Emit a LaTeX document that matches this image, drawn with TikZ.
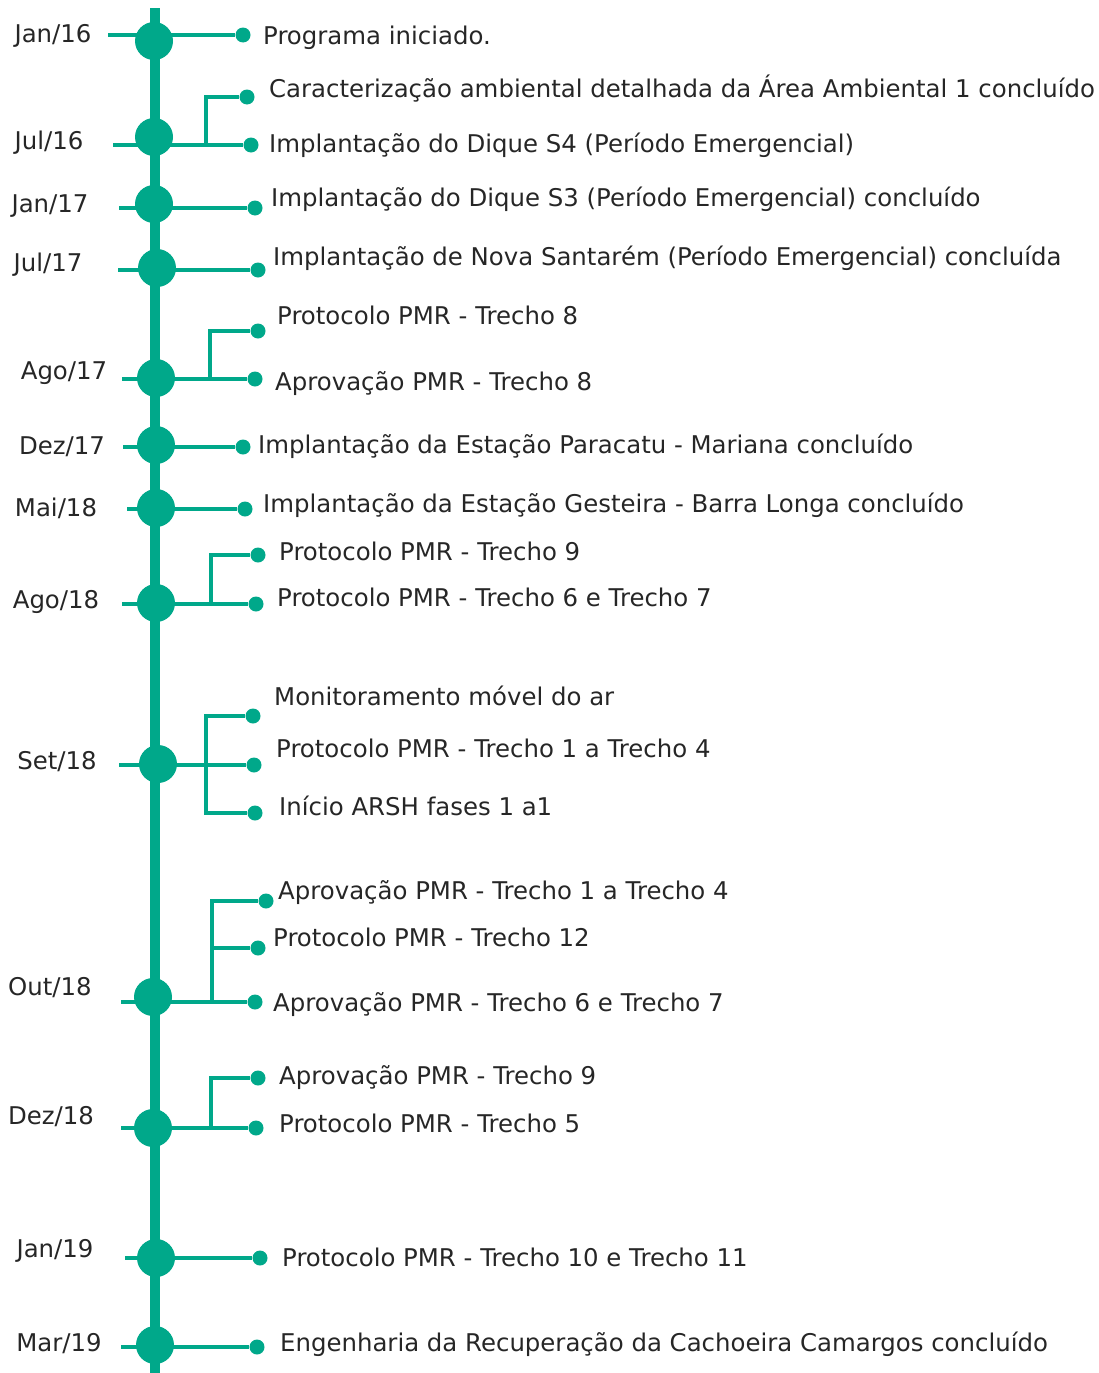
\documentclass[tikz,border=0pt]{standalone}
\usepackage{fontspec}
\setmainfont{DejaVu Sans}
\usepackage{tikz}
\usetikzlibrary{positioning, calc}
\definecolor{fundgreen}{RGB}{0, 168, 138}
\definecolor{textgray}{RGB}{38, 38, 38}

\begin{document}
\begin{tikzpicture}[x=1pt, y=-1pt,
    milestone/.style={circle, fill=fundgreen, inner sep=0pt, minimum size=38pt},
    tipdot/.style={circle, fill=fundgreen, inner sep=0pt, minimum size=15pt},
    branch/.style={draw=fundgreen, line width=3.5pt},
    evt/.style={anchor=west, inner sep=0pt, text height=18pt, text depth=0pt, text=textgray, font=\fontsize{24.4}{29}\selectfont},
    datelbl/.style={inner sep=0pt, text height=18pt, text depth=0pt, text=textgray, font=\fontsize{24.4}{29}\selectfont}]
    \useasboundingbox (0,0) rectangle (1099,1373);

    % Time axis
    \coordinate (top) at (155,8);
    \coordinate (bottom) at (155,1373);
    \draw[fundgreen, line width=10pt] (top) -- (bottom);

    % Jan/16
    \node[milestone] (m1) at (154,41) {};
    \coordinate (t1) at (108,35);
    \node[tipdot] (d1) at (243,35) {};
    \draw[branch] (t1) -- (d1);
    \node[datelbl] (l1) at (53,33) {Jan/16};
    \node[evt] (e1) at (263,35) {Programa iniciado.};

    % Jul/16
    \node[milestone] (m2) at (154,137) {};
    \coordinate (t2) at (113,145);
    \coordinate (j2) at (206,145);
    \node[tipdot] (d2a) at (247,97) {};
    \node[tipdot] (d2b) at (251,145) {};
    \draw[branch] (t2) -- (d2b);
    \draw[branch] (j2) |- (d2a);
    \node[datelbl] (l2) at (49,140) {Jul/16};
    \node[evt] (e2a) at (269,88) {Caracterização ambiental detalhada da Área Ambiental 1 concluído};
    \node[evt] (e2b) at (269,143) {Implantação do Dique S4 (Período Emergencial)};

    % Jan/17
    \node[milestone] (m3) at (154,204) {};
    \coordinate (t3) at (119,208);
    \node[tipdot] (d3) at (255,208) {};
    \draw[branch] (t3) -- (d3);
    \node[datelbl] (l3) at (50,203) {Jan/17};
    \node[evt] (e3) at (271,197) {Implantação do Dique S3 (Período Emergencial) concluído};

    % Jul/17
    \node[milestone] (m4) at (157,268) {};
    \coordinate (t4) at (118,270);
    \node[tipdot] (d4) at (258,270) {};
    \draw[branch] (t4) -- (d4);
    \node[datelbl] (l4) at (48,262) {Jul/17};
    \node[evt] (e4) at (273,256) {Implantação de Nova Santarém (Período Emergencial) concluída};

    % Ago/17
    \node[milestone] (m5) at (156,378) {};
    \coordinate (t5) at (122,379);
    \coordinate (j5) at (210,379);
    \node[tipdot] (d5a) at (258,331) {};
    \node[tipdot] (d5b) at (255,379) {};
    \draw[branch] (t5) -- (d5b);
    \draw[branch] (j5) |- (d5a);
    \node[datelbl] (l5) at (64,370) {Ago/17};
    \node[evt] (e5a) at (277,315) {Protocolo PMR - Trecho 8};
    \node[evt] (e5b) at (275,381) {Aprovação PMR - Trecho 8};

    % Dez/17
    \node[milestone] (m6) at (156,445) {};
    \coordinate (t6) at (123,447);
    \node[tipdot] (d6) at (243,447) {};
    \draw[branch] (t6) -- (d6);
    \node[datelbl] (l6) at (62,445) {Dez/17};
    \node[evt] (e6) at (258,444) {Implantação da Estação Paracatu - Mariana concluído};

    % Mai/18
    \node[milestone] (m7) at (156,508) {};
    \coordinate (t7) at (127,509);
    \node[tipdot] (d7) at (245,509) {};
    \draw[branch] (t7) -- (d7);
    \node[datelbl] (l7) at (56,507) {Mai/18};
    \node[evt] (e7) at (263,503) {Implantação da Estação Gesteira - Barra Longa concluído};

    % Ago/18
    \node[milestone] (m8) at (156,603) {};
    \coordinate (t8) at (122,604);
    \coordinate (j8) at (211,604);
    \node[tipdot] (d8a) at (258,555) {};
    \node[tipdot] (d8b) at (256,604) {};
    \draw[branch] (t8) -- (d8b);
    \draw[branch] (j8) |- (d8a);
    \node[datelbl] (l8) at (56,599) {Ago/18};
    \node[evt] (e8a) at (279,551) {Protocolo PMR - Trecho 9};
    \node[evt] (e8b) at (277,597) {Protocolo PMR - Trecho 6 e Trecho 7};

    % Set/18
    \node[milestone] (m9) at (158,764) {};
    \coordinate (t9) at (119,765);
    \coordinate (j9) at (206,765);
    \node[tipdot] (d9a) at (253,716) {};
    \node[tipdot] (d9b) at (254,765) {};
    \node[tipdot] (d9c) at (255,813) {};
    \draw[branch] (t9) -- (d9b);
    \draw[branch] (d9a) -| (j9) |- (d9c);
    \node[datelbl] (l9) at (57,760) {Set/18};
    \node[evt] (e9a) at (274,696) {Monitoramento móvel do ar};
    \node[evt] (e9b) at (276,748) {Protocolo PMR - Trecho 1 a Trecho 4};
    \node[evt] (e9c) at (279,806) {Início ARSH fases 1 a1};

    % Out/18
    \node[milestone] (m10) at (153,997) {};
    \coordinate (t10) at (121,1002);
    \coordinate (j10) at (212,1002);
    \node[tipdot] (d10a) at (266,901) {};
    \node[tipdot] (d10b) at (258,948) {};
    \node[tipdot] (d10c) at (255,1002) {};
    \draw[branch] (t10) -- (d10c);
    \draw[branch] (j10) |- (d10a);
    \draw[branch] (j10 |- d10b) -- (d10b);
    \node[datelbl] (l10) at (50,986) {Out/18};
    \node[evt] (e10a) at (278,890) {Aprovação PMR - Trecho 1 a Trecho 4};
    \node[evt] (e10b) at (273,937) {Protocolo PMR - Trecho 12};
    \node[evt] (e10c) at (273,1002) {Aprovação PMR - Trecho 6 e Trecho 7};

    % Dez/18
    \node[milestone] (m11) at (153,1128) {};
    \coordinate (t11) at (121,1128);
    \coordinate (j11) at (211,1128);
    \node[tipdot] (d11a) at (258,1078) {};
    \node[tipdot] (d11b) at (256,1128) {};
    \draw[branch] (t11) -- (d11b);
    \draw[branch] (j11) |- (d11a);
    \node[datelbl] (l11) at (51,1115) {Dez/18};
    \node[evt] (e11a) at (279,1075) {Aprovação PMR - Trecho 9};
    \node[evt] (e11b) at (279,1123) {Protocolo PMR - Trecho 5};

    % Jan/19
    \node[milestone] (m12) at (156,1258) {};
    \coordinate (t12) at (125,1258);
    \node[tipdot] (d12) at (260,1258) {};
    \draw[branch] (t12) -- (d12);
    \node[datelbl] (l12) at (55,1248) {Jan/19};
    \node[evt] (e12) at (282,1257) {Protocolo PMR - Trecho 10 e Trecho 11};

    % Mar/19
    \node[milestone] (m13) at (155,1345) {};
    \coordinate (t13) at (121,1347);
    \node[tipdot] (d13) at (257,1347) {};
    \draw[branch] (t13) -- (d13);
    \node[datelbl] (l13) at (59,1342) {Mar/19};
    \node[evt] (e13) at (280,1342) {Engenharia da Recuperação da Cachoeira Camargos concluído};
\end{tikzpicture}
\end{document}
